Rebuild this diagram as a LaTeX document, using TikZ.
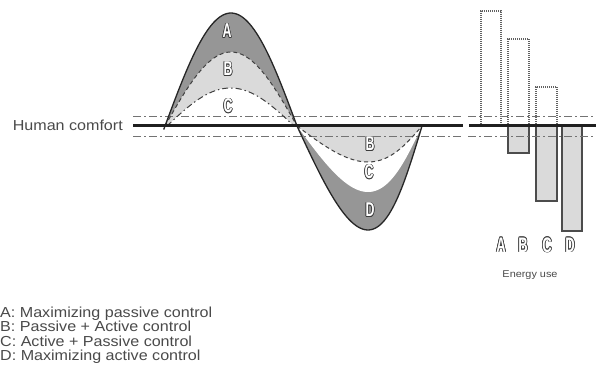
\documentclass[tikz,border=0pt]{standalone}
\usepackage{fontspec}
\setmainfont{Liberation Sans}[FakeStretch=1.11]
\newfontfamily\letfont{Liberation Sans}[FakeStretch=0.62]
\definecolor{darkg}{HTML}{969696}
\definecolor{lightg}{HTML}{DADADA}
\definecolor{textc}{HTML}{4A4A4A}
\definecolor{olc}{HTML}{3C3C3C}
\newcommand\oletpart[3]{\rlap{\hspace*{#1}\raisebox{#2}{\textcolor{olc}{#3}}}}
\newcommand\olet[1]{\leavevmode
  \oletpart{0.7pt}{0pt}{#1}\oletpart{-0.7pt}{0pt}{#1}%
  \oletpart{0pt}{0.7pt}{#1}\oletpart{0pt}{-0.7pt}{#1}%
  \oletpart{0.5pt}{0.5pt}{#1}\oletpart{-0.5pt}{0.5pt}{#1}%
  \oletpart{0.5pt}{-0.5pt}{#1}\oletpart{-0.5pt}{-0.5pt}{#1}%
  \textcolor{white}{#1}}
\begin{document}
\begin{tikzpicture}[x=1pt,y=-1pt,
  comfortline/.style={line width=3pt, black!88},
  dashdotline/.style={line width=0.9pt, black!55, dash pattern=on 8pt off 3pt on 2pt off 3pt},
  solidcurve/.style={line width=1.3pt, black!85},
  dashcurve/.style={line width=1pt, black!75, dash pattern=on 4pt off 3pt},
  dotdashcurve/.style={line width=1pt, black!75, dash pattern=on 6pt off 3pt on 1.5pt off 3pt},
  dotbar/.style={draw=black!62, line width=1.1pt, dash pattern=on 1pt off 1pt},
  solidbar/.style={draw=black!70, fill=lightg, line width=1.2pt},
  lettr/.style={font=\letfont\bfseries\fontsize{20}{20}\selectfont, inner sep=0pt},
  barlettr/.style={font=\letfont\bfseries\fontsize{21}{21}\selectfont, inner sep=0pt},
  lbl/.style={font=\fontsize{14.5}{14.5}\selectfont, text=textc, inner sep=0pt},
  smalllbl/.style={font=\fontsize{9.8}{9.8}\selectfont, text=textc, inner sep=0pt}
]
\useasboundingbox (0,0) rectangle (596,374);
\fill[white] (0,0) rectangle (596,374);

% ---- top lobe fills
\fill[darkg] plot[domain=0:1, samples=60] ({165+132*\x}, {126-113*sin(180*\x)}) -- cycle;
\fill[lightg] plot[domain=0:1, samples=60] ({165+132*\x}, {126-74*sin(180*\x)}) -- cycle;
\fill[white] plot[domain=0:1, samples=60] ({167+127*\x}, {126-38*sin(180*\x)}) -- cycle;
% ---- bottom lobe fills
\fill[darkg] plot[domain=0:1, samples=60] ({297+125*(\x+0.068*sin(180*\x))}, {126+104*sin(180*\x)}) -- cycle;
\fill[white] plot[domain=0:1, samples=60] ({297+125*(\x+0.068*sin(180*\x))}, {126+66*sin(180*\x)}) -- cycle;
\fill[lightg] plot[domain=0:1, samples=60] ({297+125*(\x+0.068*sin(180*\x))}, {126+36*sin(180*\x)}) -- cycle;

% ---- bars
\draw[dotbar] (481,126) rectangle (501,11);
\draw[dotbar] (508,126) rectangle (529,39);
\draw[dotbar] (536,126) rectangle (557,87);
\draw[solidbar] (508,126) rectangle (529,153);
\draw[solidbar] (536,126) rectangle (557,201);
\draw[solidbar] (562,126) rectangle (582,231);

% ---- comfort band
\coordinate (ul) at (133,116); \coordinate (ur) at (462,116);
\coordinate (ll) at (133,136); \coordinate (lr) at (462,136);
\coordinate (ul2) at (468,116); \coordinate (ur2) at (596,116);
\coordinate (ll2) at (468,136); \coordinate (lr2) at (596,136);
\draw[dashdotline] (ul) -- (ur);
\draw[dashdotline] (ll) -- (lr);
\draw[dashdotline] (ul2) -- (ur2);
\draw[dashdotline] (ll2) -- (lr2);

% ---- curves
\draw[dotdashcurve] plot[domain=0:1, samples=60] ({167+127*\x}, {126-38*sin(180*\x)});
\draw[dashcurve] plot[domain=0:1, samples=60] ({165+132*\x}, {126-74*sin(180*\x)});
\draw[dashcurve] plot[domain=0:1, samples=60] ({297+125*(\x+0.068*sin(180*\x))}, {126+36*sin(180*\x)});
\draw[solidcurve] plot[domain=-0.01:1, samples=60] ({165+132*\x}, {126-113*sin(180*\x)});
\draw[solidcurve] plot[domain=0:1, samples=60] ({297+125*(\x+0.068*sin(180*\x))}, {126+104*sin(180*\x)});

% ---- thick comfort line
\coordinate (cl) at (133,126); \coordinate (cr) at (463,126);
\coordinate (cl2) at (469,126); \coordinate (cr2) at (596,126);
\draw[comfortline] (cl) -- (cr);
\draw[comfortline] (cl2) -- (cr2);

% ---- lobe letters
\node[lettr] (tA) at (227,31) {\olet{A}};
\node[lettr] (tB) at (228,69) {\olet{B}};
\node[lettr] (tC) at (228,106) {\olet{C}};
\node[lettr] (bB) at (370,144) {\olet{B}};
\node[lettr] (bC) at (369,172) {\olet{C}};
\node[lettr] (bD) at (370,210) {\olet{D}};

% ---- bar letters
\node[barlettr] (eA) at (501,245) {\olet{A}};
\node[barlettr] (eB) at (523,245) {\olet{B}};
\node[barlettr] (eC) at (547,245) {\olet{C}};
\node[barlettr] (eD) at (570,245) {\olet{D}};
\node[smalllbl] (energy) at (530,275) {Energy use};

% ---- labels
\node[lbl, anchor=base east] (comfort) at (123,131) {Human comfort};
\node[lbl, anchor=base west] (legA) at (0,317) {A: Maximizing passive control};
\node[lbl, anchor=base west] (legB) at (0,331.5) {B: Passive + Active control};
\node[lbl, anchor=base west] (legC) at (0,346) {C: Active + Passive control};
\node[lbl, anchor=base west] (legD) at (0,360.5) {D: Maximizing active control};
\end{tikzpicture}
\end{document}
